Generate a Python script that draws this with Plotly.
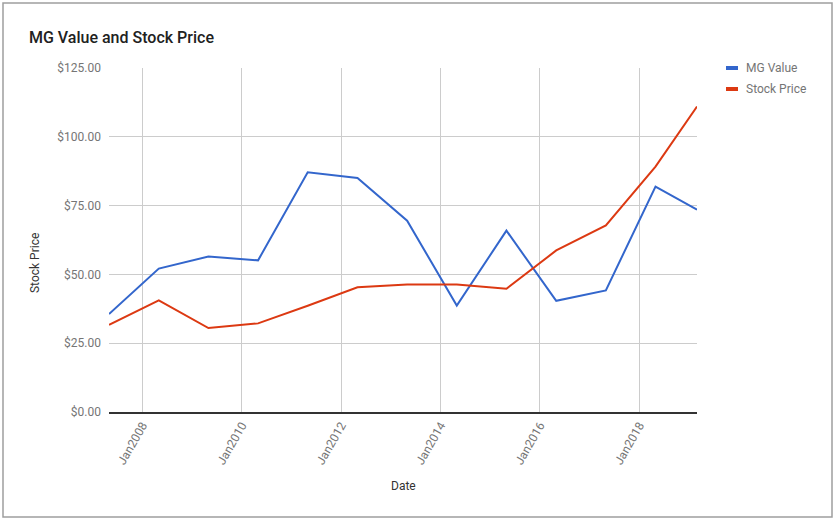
import plotly.graph_objects as go

dates = ["2007-04-30", "2008-04-30", "2009-04-30", "2010-04-30", "2011-04-30",
         "2012-04-30", "2013-04-30", "2014-04-30", "2015-04-30", "2016-04-30",
         "2017-04-30", "2018-04-30", "2019-03-01"]
mg_value = [35.6, 52.1, 56.5, 55.1, 87.1, 85.0, 69.5, 38.7, 65.9, 40.4, 44.2, 81.9, 73.5]
stock_price = [31.7, 40.6, 30.5, 32.2, 38.6, 45.3, 46.3, 46.3, 44.8, 58.7, 67.8, 89.2, 111.0]
series_names = ["MG Value", "Stock Price"]
colors = ["#3366CC", "#DC3912"]
y_ticks = [0, 25, 50, 75, 100, 125]
y_tick_text = ["$0.00", "$25.00", "$50.00", "$75.00", "$100.00", "$125.00"]
x_ticks = ["2008-01-01", "2010-01-01", "2012-01-01", "2014-01-01", "2016-01-01", "2018-01-01"]
x_tick_text = ["Jan2008", "Jan2010", "Jan2012", "Jan2014", "Jan2016", "Jan2018"]

W, H = 836, 521
L, R, T, B = 109, 697, 68, 412
pw, ph = R - L, B - T

def px(xpix):
    return (xpix - L) / pw

def py(ypix):
    return (B - ypix) / ph

fig = go.Figure()
for name, vals, c in zip(series_names, [mg_value, stock_price], colors):
    fig.add_trace(go.Scatter(x=dates, y=vals, mode="lines", name=name,
                             line=dict(color=c, width=2), showlegend=False))

shapes = [
    dict(type="rect", xref="paper", yref="paper", x0=px(3), x1=px(832), y0=py(517), y1=py(3),
         line=dict(color="#9e9e9e", width=1.5), fillcolor="rgba(0,0,0,0)", layer="below"),
]
annotations = [
    dict(text="Stock Price", xref="paper", yref="paper", x=px(35), y=py(263), showarrow=False,
         xanchor="center", yanchor="middle",
         textangle=-90, font=dict(size=12, color="#333333", family="Roboto")),
    dict(text="Date", xref="paper", yref="paper", x=px(403), y=py(486), showarrow=False,
         xanchor="center", yanchor="middle",
         font=dict(size=12, color="#333333", family="Roboto")),
]
for i, (name, c) in enumerate(zip(series_names, colors)):
    yc = 68 + i * 21
    shapes.append(dict(type="rect", xref="paper", yref="paper", x0=px(726), x1=px(738),
                       y0=py(yc + 2), y1=py(yc - 2), line=dict(width=0), fillcolor=c))
    annotations.append(dict(text=name, xref="paper", yref="paper", x=px(744), y=py(yc),
                            xanchor="left", yanchor="middle", showarrow=False,
                            font=dict(size=12, color="#757575", family="Roboto")))

fig.update_layout(
    width=W, height=H,
    margin=dict(l=L, r=W - R, t=T, b=H - B),
    paper_bgcolor="white", plot_bgcolor="white",
    title=dict(text="MG Value and Stock Price", xref="container", yref="container",
               x=29 / W, y=1 - 37 / H, xanchor="left", yanchor="middle",
               font=dict(size=16, color="#212121", family="Roboto", weight=500)),
    shapes=shapes, annotations=annotations,
    xaxis=dict(range=[dates[0], dates[-1]], tickvals=x_ticks, ticktext=x_tick_text,
               tickangle=-60, showgrid=True, gridcolor="#cccccc", gridwidth=1,
               showline=True, linecolor="#333333", linewidth=1.5, zeroline=False,
               ticks="", tickfont=dict(size=12, color="#757575", family="Roboto")),
    yaxis=dict(range=[0, 125], tickvals=y_ticks, ticktext=y_tick_text,
               showgrid=True, gridcolor="#cccccc", gridwidth=1, zeroline=False,
               showline=False, ticks="", ticklabelstandoff=7,
               tickfont=dict(size=12, color="#757575", family="Roboto")),
)
fig.write_html("out.html", config={"displayModeBar": False},
               post_script="document.body.style.margin='0px';")
